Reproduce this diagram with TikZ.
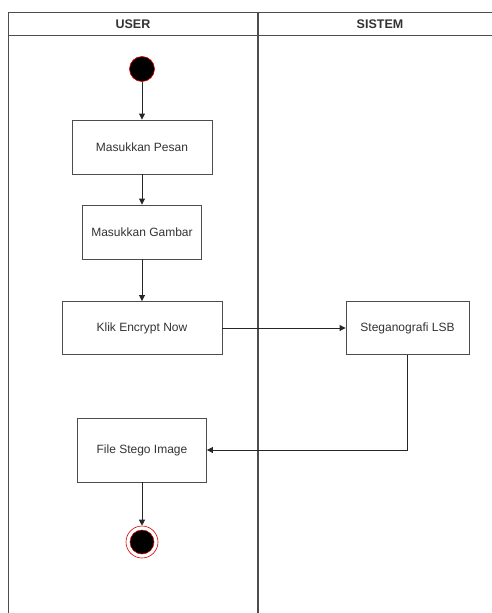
\documentclass[tikz,border=0pt]{standalone}
\usepackage{fontspec}
\setmainfont{Liberation Sans}
\usetikzlibrary{arrows.meta}
\definecolor{ln}{HTML}{4D4D4D}
\definecolor{tx}{HTML}{333333}
\tikzset{
  actbox/.style={draw=ln, line width=0.9pt, fill=white, minimum height=54pt, inner sep=0pt, text=tx, font=\fontsize{12}{14}\selectfont},
  lane/.style={draw=ln, line width=1pt},
  flow/.style={draw=black!85, line width=0.9pt, -{Triangle[length=6pt,width=6pt]}},
  hdr/.style={text=tx, font=\fontsize{12.5}{14}\selectfont\bfseries, inner sep=0pt},
}
\begin{document}
\begin{tikzpicture}[x=1pt,y=-1pt]
\useasboundingbox (0,0) rectangle (491,613);
% swimlanes
\draw[lane] (8,640) -- (8,12) -- (510,12);
\draw[lane] (8,35) -- (510,35);
\draw[lane] (502,12) -- (502,640);
\draw[draw=ln, line width=2pt] (258,12) -- (258,640);
\node[hdr] (huser) at (133,24) {USER};
\node[hdr] (hsys) at (380,24) {SISTEM};
% nodes
\node[circle, fill=black, draw=red!85!black, line width=0.6pt, minimum size=25pt, inner sep=0pt] (start) at (142,69) {};
\node[actbox, minimum width=140pt] (pesan) at (142,147) {Masukkan Pesan};
\node[actbox, minimum width=119pt] (gambar) at (142,232) {Masukkan Gambar};
\node[actbox, minimum width=160pt, minimum height=53pt] (klik) at (142,328) {Klik Encrypt Now};
\node[actbox, minimum width=123pt, minimum height=53pt] (lsb) at (407.5,328) {Steganografi LSB};
\node[actbox, minimum width=129pt, minimum height=64pt] (file) at (142,450) {File Stego Image};
\node[circle, draw=red!85!black, line width=0.6pt, minimum size=32pt, inner sep=0pt] (end) at (142,542) {};
\node[circle, fill=black, draw=red!85!black, line width=0.5pt, minimum size=24pt, inner sep=0pt] (endin) at (142,542) {};
% flows
\draw[flow] (start) -- (pesan);
\draw[flow] (pesan) -- (gambar);
\draw[flow] (gambar) -- (klik);
\draw[flow] (klik) -- (lsb);
\draw[flow] (lsb.south) |- (file.east);
\draw[flow] (file) -- (end);
\end{tikzpicture}
\end{document}
